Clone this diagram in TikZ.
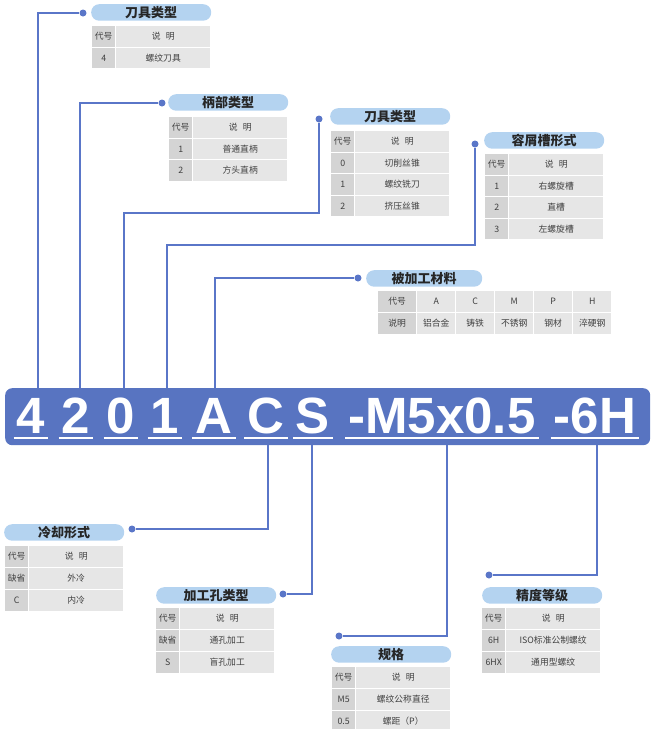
\documentclass[tikz,border=0pt]{standalone}
\usepackage{fontspec}
\setmainfont{Liberation Sans}
\newfontfamily\cjk{Noto Sans CJK SC}
\usetikzlibrary{calc}
\definecolor{barblue}{RGB}{88,116,193}
\definecolor{lineblue}{RGB}{90,118,200}
\definecolor{pillblue}{RGB}{180,211,240}
\definecolor{codegray}{RGB}{212,212,212}
\definecolor{cellgray}{RGB}{230,230,230}
\tikzset{
  link/.style={draw=lineblue,line width=2pt},
  dot/.style={circle,fill=lineblue,inner sep=0pt,minimum size=7pt},
  pill/.style={rounded corners=8pt,fill=pillblue,minimum width=120pt,minimum height=16.5pt,inner sep=0pt,anchor=north west,font=\cjk\bfseries\fontsize{13}{14}\selectfont,text=black!85},
  kc/.style={fill=codegray,minimum width=23pt,minimum height=20.5pt,inner sep=0pt,anchor=north west,font=\cjk\fontsize{8.8}{10}\selectfont,text=black!75},
  dc/.style={kc,fill=cellgray,minimum width=94pt},
  hc/.style={kc,minimum width=38pt},
  mc/.style={kc,fill=cellgray,minimum width=38pt},
  ch/.style={font=\bfseries\fontsize{51}{51}\selectfont,text=white,inner sep=3pt,anchor=base},
  uline/.style={draw=white,line width=1.5pt},
}
\newcommand{\sm}{说\hspace{0.6em}明}

\begin{document}
\begin{tikzpicture}[x=1pt,y=-1pt]
\useasboundingbox (0,0) rectangle (654,729);
% code bar
\node[fill=barblue,rounded corners=7pt,minimum width=645pt,minimum height=57pt,inner sep=0pt,anchor=north west] (bar) at (5,388) {};
\node[ch] (c4) at (31,433){4}; \node[ch] (c2) at (76,433){2}; \node[ch] (c0) at (121,433){0};
\node[ch] (c1) at (165,433){1}; \node[ch] (cA) at (214,433){A}; \node[ch] (cC) at (266,433){C};
\node[ch] (cS) at (313,433){S}; \node[ch] (cM) at (442,433){-M5x0.5}; \node[ch] (cH) at (595,433){-6H};
\foreach \c in {c4,c2,c0,c1,cA,cC,cS,cM,cH}
  \draw[uline] ([yshift=-5pt]\c.base west) -- ([yshift=-5pt]\c.base east);
\coordinate (u4) at (38,388); \coordinate (u2) at (80,388); \coordinate (u0) at (124,388);
\coordinate (u1) at (167,388); \coordinate (uA) at (215,388);
\coordinate (lC) at (268,445); \coordinate (lS) at (312,445); \coordinate (lM) at (447,445);
\coordinate (lH) at (597,445);

% top: tool type
\node[pill] (tA) at (91,4){刀具类型}; \node[dot] (d4) at (83,13){};
\node[kc] (a1k) at (92,26){代号}; \node[dc] (a1d) at (116,26){\sm};
\node[kc] (a2k) at (92,47.5){4}; \node[dc] (a2d) at (116,47.5){螺纹刀具};
% shank type
\node[pill] (tB) at (168,94){柄部类型}; \node[dot] (d2) at (162,103){};
\node[kc] (b1k) at (169,117){代号}; \node[dc] (b1d) at (193,117){\sm};
\node[kc] (b2k) at (169,138.5){1}; \node[dc] (b2d) at (193,138.5){普通直柄};
\node[kc] (b3k) at (169,160){2}; \node[dc] (b3d) at (193,160){方头直柄};
% tool type 2
\node[pill] (tC) at (330,108){刀具类型}; \node[dot] (d0) at (319,119){};
\node[kc] (e1k) at (331,131){代号}; \node[dc] (e1d) at (355,131){\sm};
\node[kc] (e2k) at (331,152.5){0}; \node[dc] (e2d) at (355,152.5){切削丝锥};
\node[kc] (e3k) at (331,174){1}; \node[dc] (e3d) at (355,174){螺纹铣刀};
\node[kc] (e4k) at (331,195.5){2}; \node[dc] (e4d) at (355,195.5){挤压丝锥};
% flute form
\node[pill] (tD) at (484,132){容屑槽形式}; \node[dot] (d1) at (475,144){};
\node[kc] (f1k) at (485,154){代号}; \node[dc] (f1d) at (509,154){\sm};
\node[kc] (f2k) at (485,175.5){1}; \node[dc] (f2d) at (509,175.5){右螺旋槽};
\node[kc] (f3k) at (485,197){2}; \node[dc] (f3d) at (509,197){直槽};
\node[kc] (f4k) at (485,218.5){3}; \node[dc] (f4d) at (509,218.5){左螺旋槽};
% material
\node[pill,minimum width=116pt] (tE) at (366,270){被加工材料}; \node[dot] (dA) at (358,278){};
\node[hc] (m1) at (378,291){代号}; \node[mc] (m2) at (417,291){A}; \node[mc] (m3) at (456,291){C};
\node[mc] (m4) at (495,291){M}; \node[mc] (m5) at (534,291){P}; \node[mc] (m6) at (573,291){H};
\node[hc] (n1) at (378,313){说明}; \node[mc] (n2) at (417,313){铝合金}; \node[mc] (n3) at (456,313){铸铁};
\node[mc] (n4) at (495,313){不锈钢}; \node[mc] (n5) at (534,313){钢材}; \node[mc] (n6) at (573,313){淬硬钢};

% bottom: cooling
\node[pill] (tF) at (4,524){冷却形式}; \node[dot] (dC) at (132,529){};
\node[kc] (g1k) at (5,546){代号}; \node[dc] (g1d) at (29,546){\sm};
\node[kc] (g2k) at (5,568){缺省}; \node[dc] (g2d) at (29,568){外冷};
\node[kc] (g3k) at (5,590){C}; \node[dc] (g3d) at (29,590){内冷};
% hole type
\node[pill] (tG) at (156,587){加工孔类型}; \node[dot] (dS) at (283,594){};
\node[kc] (h1k) at (156,608){代号}; \node[dc] (h1d) at (180,608){\sm};
\node[kc] (h2k) at (156,630){缺省}; \node[dc] (h2d) at (180,630){通孔加工};
\node[kc] (h3k) at (156,652){S}; \node[dc] (h3d) at (180,652){盲孔加工};
% size
\node[pill] (tH) at (331,646){规格}; \node[dot] (dM) at (339,636){};
\node[kc] (s1k) at (332,667){代号}; \node[dc] (s1d) at (356,667){\sm};
\node[kc] (s2k) at (332,689){M5}; \node[dc] (s2d) at (356,689){螺纹公称直径};
\node[kc] (s3k) at (332,711){0.5}; \node[dc] (s3d) at (356,711){螺距（P）};
% tolerance
\node[pill] (tI) at (482,587){精度等级}; \node[dot] (dH) at (489,575){};
\node[kc] (p1k) at (482,608){代号}; \node[dc] (p1d) at (506,608){\sm};
\node[kc] (p2k) at (482,630){6H}; \node[dc] (p2d) at (506,630){ISO标准公制螺纹};
\node[kc] (p3k) at (482,652){6HX}; \node[dc] (p3d) at (506,652){通用型螺纹};

% connectors
\draw[link] (u4) |- (d4); \draw[link] (u2) |- (d2);
\draw[link] (u0) -- ++(0,-175) -| (d0); \draw[link] (u1) -- ++(0,-143) -| (d1);
\draw[link] (uA) |- (dA);
\draw[link] (lC) |- (dC); \draw[link] (lS) |- (dS);
\draw[link] (lM) |- (dM); \draw[link] (lH) |- (dH);
\end{tikzpicture}
\end{document}
